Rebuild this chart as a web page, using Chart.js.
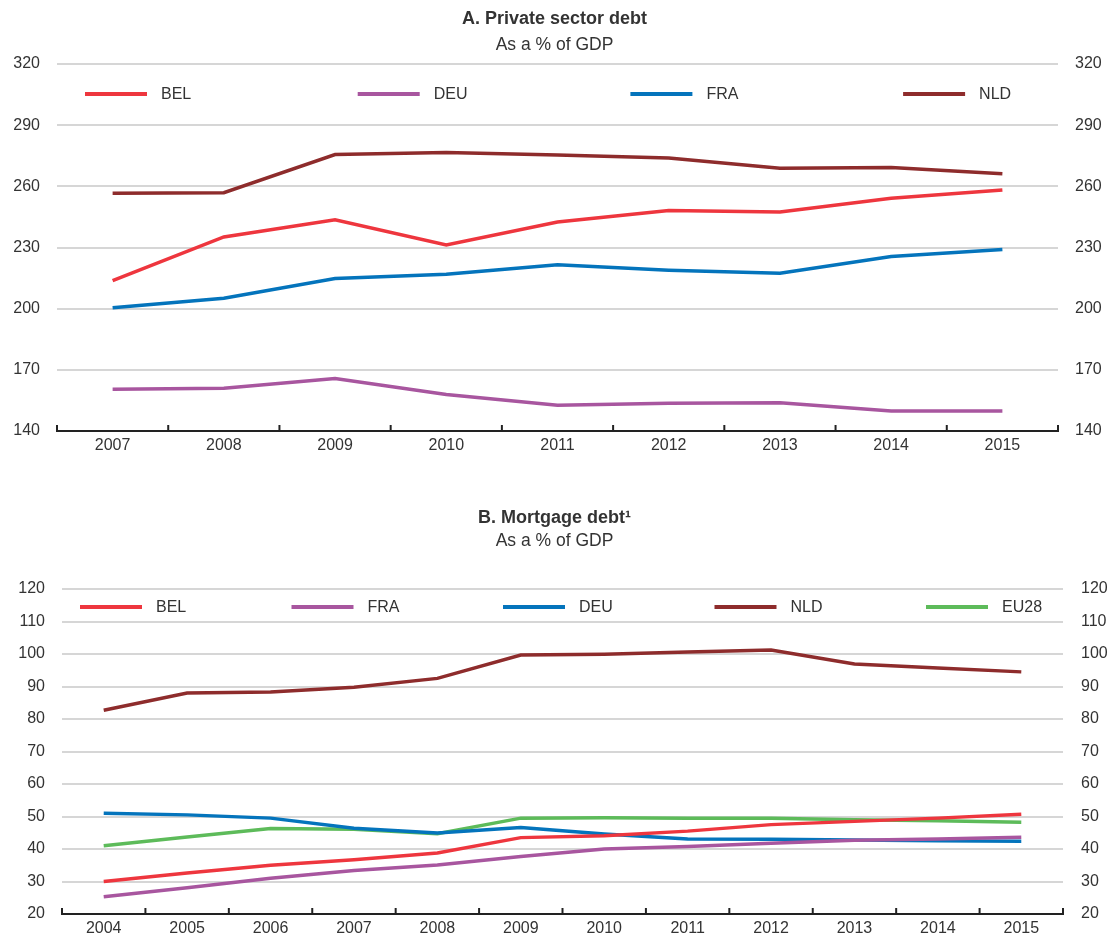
<!DOCTYPE html>
<html>
<head>
<meta charset="utf-8">
<script src="https://cdn.jsdelivr.net/npm/chart.js@4.4.0/dist/chart.umd.min.js"></script>
<style>
  html, body { margin: 0; padding: 0; background: #fff; overflow: hidden; width: 1109px; height: 935px; }
  canvas { display: block; position: absolute; left: 0; }
  #cA { top: 0; }
  #cB { top: 475px; }
</style>
</head>
<body>
<canvas id="cA" width="1109" height="475"></canvas>
<canvas id="cB" width="1109" height="470"></canvas>
<script>
// ---------- Data ----------
const yearsA = ['2007','2008','2009','2010','2011','2012','2013','2014','2015'];
const A_BEL = [213.8, 235.2, 243.6, 231.3, 242.5, 248.2, 247.4, 254.1, 258.2];
const A_DEU = [160.5, 161.0, 165.7, 157.9, 152.6, 153.6, 153.8, 149.8, 149.8];
const A_FRA = [200.4, 205.1, 214.8, 216.9, 221.5, 218.9, 217.4, 225.6, 229.0];
const A_NLD = [256.6, 256.9, 275.6, 276.6, 275.4, 273.9, 268.9, 269.2, 266.2];

const yearsB = ['2004','2005','2006','2007','2008','2009','2010','2011','2012','2013','2014','2015'];
const B_BEL  = [30.0, 32.6, 35.0, 36.7, 38.8, 43.5, 44.1, 45.5, 47.5, 48.5, 49.5, 50.7];
const B_FRA  = [25.3, 28.1, 31.0, 33.4, 35.1, 37.7, 40.0, 40.8, 41.8, 42.7, 43.1, 43.6];
const B_DEU  = [51.0, 50.5, 49.5, 46.4, 44.9, 46.6, 44.6, 43.1, 43.0, 42.8, 42.5, 42.4];
const B_NLD  = [82.7, 88.0, 88.3, 89.8, 92.5, 99.7, 99.9, 100.6, 101.2, 96.9, 95.7, 94.5];
const B_EU28 = [41.0, 43.7, 46.3, 46.1, 44.7, 49.5, 49.6, 49.5, 49.5, 49.0, 48.7, 48.2];

const titleA = 'A. Private sector debt';
const titleB = 'B. Mortgage debt\u00B9';
const subtitleText = 'As a % of GDP';

// ---------- Styles ----------
const FONT = "'Liberation Sans', Arial, Helvetica, sans-serif";
const TXT = '#333333';
const C_RED = '#EE363E', C_PURPLE = '#A8569F', C_BLUE = '#0474BC', C_DARK = '#8E2C2C', C_GREEN = '#5DBB5A';
const GRID = '#d6d6d6';

function ds(label, data, color) {
  return { label, data, borderColor: color, backgroundColor: color, borderWidth: 3.5,
           pointRadius: 0, pointHoverRadius: 0, tension: 0, fill: false, yAxisID: 'y' };
}

// Inside legend + inward x tick marks
const decorPlugin = {
  id: 'decor',
  afterDatasetsDraw(chart, args, opts) {
    const ctx = chart.ctx, ca = chart.chartArea;
    const xs = chart.scales.x;
    const n = chart.data.labels.length;
    const step = (xs.getPixelForValue(1) - xs.getPixelForValue(0));
    ctx.save();
    ctx.strokeStyle = '#222';
    ctx.lineWidth = 2;
    for (let i = 0; i <= n; i++) {
      const x = xs.getPixelForValue(0) - step / 2 + i * step;
      ctx.beginPath();
      ctx.moveTo(x, ca.bottom);
      ctx.lineTo(x, ca.bottom - 6);
      ctx.stroke();
    }
    ctx.font = '16px ' + FONT;
    ctx.textBaseline = 'middle';
    ctx.textAlign = 'left';
    chart.data.datasets.forEach((d, i) => {
      const x0 = ca.left + opts.x + i * opts.spacing;
      const y = ca.top + opts.y;
      ctx.strokeStyle = d.borderColor;
      ctx.lineWidth = 4;
      ctx.beginPath();
      ctx.moveTo(x0, y);
      ctx.lineTo(x0 + 62, y);
      ctx.stroke();
      ctx.fillStyle = TXT;
      ctx.fillText(d.label, x0 + 62 + 14, y + 1);
    });
    ctx.restore();
  }
};

function makeChart(id, labels, datasets, cfg) {
  return new Chart(document.getElementById(id), {
    type: 'line',
    data: { labels, datasets },
    plugins: [decorPlugin],
    options: {
      responsive: false,
      animation: false,
      devicePixelRatio: 1,
      layout: { padding: { left: 0, right: 0, top: 0, bottom: cfg.padBottom } },
      plugins: {
        legend: { display: false },
        tooltip: { enabled: false },
        title: { display: true, text: cfg.title, color: TXT,
                 font: { family: FONT, size: 18, weight: 'bold', lineHeight: 1.2 },
                 padding: { top: cfg.tTop, bottom: 0 } },
        subtitle: { display: true, text: subtitleText, color: TXT,
                 font: { family: FONT, size: 17.5, weight: 'normal', lineHeight: 1.2 },
                 padding: { top: cfg.sTop, bottom: cfg.sBottom } },
        decor: { x: cfg.legX, y: cfg.legY, spacing: cfg.legSpacing }
      },
      scales: {
        x: {
          type: 'category',
          offset: true,
          grid: { display: false, drawTicks: false },
          border: { display: true, color: '#222', width: 2 },
          ticks: { color: TXT, font: { family: FONT, size: 16 }, padding: 5, maxRotation: 0, autoSkip: false }
        },
        y: {
          position: 'left',
          min: cfg.min, max: cfg.max,
          afterFit(s) { s.width = cfg.leftW; },
          grid: { color: GRID, lineWidth: 2, drawTicks: false },
          border: { display: false },
          ticks: { stepSize: cfg.step, color: TXT, font: { family: FONT, size: 16 }, padding: cfg.leftPad }
        },
        y2: {
          position: 'right',
          min: cfg.min, max: cfg.max,
          afterFit(s) { s.width = cfg.rightW; },
          grid: { display: false, drawTicks: false },
          border: { display: false },
          ticks: { stepSize: cfg.step, color: TXT, font: { family: FONT, size: 16 }, padding: cfg.rightPad }
        }
      }
    }
  });
}

makeChart('cA', yearsA, [
  ds('BEL', A_BEL, C_RED),
  ds('DEU', A_DEU, C_PURPLE),
  ds('FRA', A_FRA, C_BLUE),
  ds('NLD', A_NLD, C_DARK)
], { title: titleA, tTop: 8.2, sTop: 4.7, sBottom: 8.5, padBottom: 14.8,
     min: 140, max: 320, step: 30, leftW: 57, rightW: 51, leftPad: 17, rightPad: 17,
     legX: 28, legY: 30, legSpacing: 272.7 });

makeChart('cB', yearsB, [
  ds('BEL', B_BEL, C_RED),
  ds('FRA', B_FRA, C_PURPLE),
  ds('DEU', B_DEU, C_BLUE),
  ds('NLD', B_NLD, C_DARK),
  ds('EU28', B_EU28, C_GREEN)
], { title: titleB, tTop: 32.2, sTop: 1.7, sBottom: 37.5, padBottom: 1.8,
     min: 20, max: 120, step: 10, leftW: 62, rightW: 46, leftPad: 17, rightPad: 18,
     legX: 18, legY: 18, legSpacing: 211.5 });
</script>
</body>
</html>
